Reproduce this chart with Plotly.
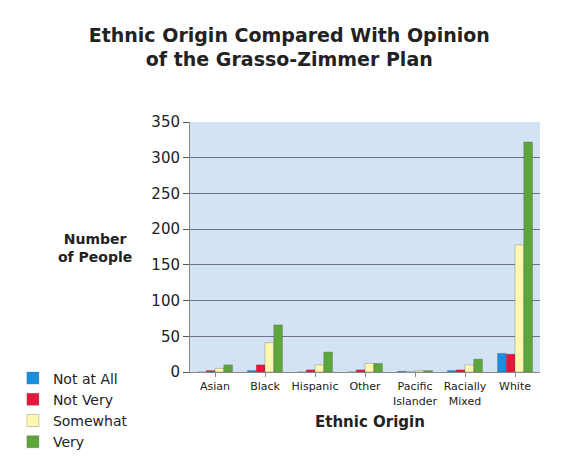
import plotly.graph_objects as go

categories = ["Asian", "Black", "Hispanic", "Other", "Pacific<br>Islander", "Racially<br>Mixed", "White"]
not_at_all = [0, 2, 0, 0, 1, 2, 26]
not_very = [2, 10, 3, 3, 0, 3, 25]
somewhat = [5, 41, 10, 12, 2, 10, 178]
very = [10, 66, 28, 12, 2, 18, 322]

series = [
    ("Not at All", not_at_all, "#1a8fe0"),
    ("Not Very", not_very, "#e8163a"),
    ("Somewhat", somewhat, "#fff6b0"),
    ("Very", very, "#5ca63c"),
]

fig = go.Figure()
for name, vals, col in series:
    fig.add_trace(go.Bar(x=categories, y=vals, name=name, marker_color=col,
                         marker_line_color="#555555", marker_line_width=0.3))

font = "DejaVu Sans, Verdana, sans-serif"
fig.update_layout(
    width=586, height=461,
    margin=dict(l=182, r=54, t=114, b=97, autoexpand=False),
    paper_bgcolor="white",
    plot_bgcolor="#d3e3f4",
    barmode="group",
    bargap=0.3,
    bargroupgap=0.0,
    font=dict(family=font, color="#222222"),
    title=dict(text="<b>Ethnic Origin Compared With Opinion<br>of the Grasso-Zimmer Plan</b>",
               x=0.48, xanchor="center", xref="container",
               y=0.927, yanchor="top", yref="container",
               font=dict(size=19, family=font, color="#222222")),
    legend=dict(x=-0.506, xanchor="left", y=0.038, yanchor="top",
                font=dict(size=14, family=font), bgcolor="rgba(0,0,0,0)",
                tracegroupgap=0, itemwidth=30),
    showlegend=True,
    annotations=[
        dict(text="<b>Number<br>of People</b>", xref="paper", yref="paper",
             x=-0.271, y=0.496, xanchor="center", yanchor="middle",
             showarrow=False, font=dict(size=14, family=font)),
        dict(text="<b>Ethnic Origin</b>", xref="paper", yref="paper",
             x=0.514, y=-0.2, xanchor="center", yanchor="middle",
             showarrow=False, font=dict(size=15, family=font)),
    ],
)
fig.update_xaxes(tickfont=dict(size=11, family=font), showline=True, linecolor="#888888",
                 ticks="outside", tickcolor="#888888", ticklen=4, tickangle=0,
                 automargin=False)
fig.update_yaxes(range=[0, 350], dtick=50, tickfont=dict(size=15, family=font),
                 showgrid=True, gridcolor="#707088", gridwidth=1, showline=True,
                 linecolor="#888888", ticks="outside", tickcolor="#555555", ticklen=6,
                 zeroline=False, automargin=False)

fig.write_html("out.html")
